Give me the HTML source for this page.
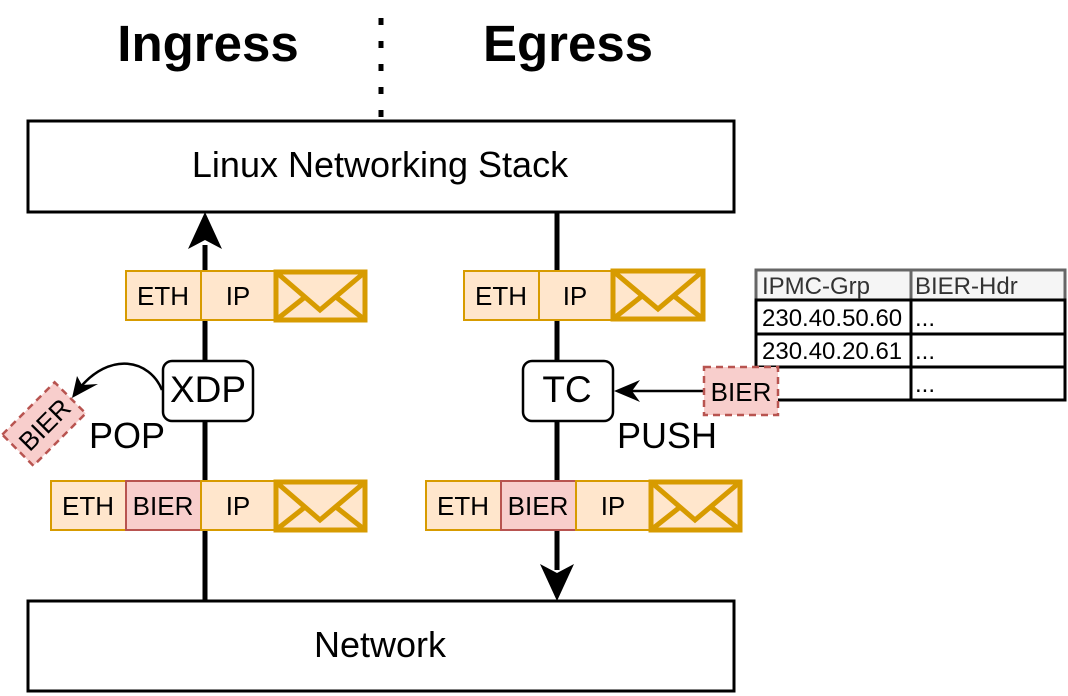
<!DOCTYPE html>
<html><head><style>body{margin:0;background:#fff}svg{display:block}text{font-family:"Liberation Sans",sans-serif}</style></head>
<body>
<svg width="1068" height="696" viewBox="0 0 1068 696" xmlns="http://www.w3.org/2000/svg">
<text x="208" y="61" font-size="51" font-weight="bold" text-anchor="middle">Ingress</text>
<text x="568" y="61" font-size="51" font-weight="bold" text-anchor="middle">Egress</text>
<line x1="381" y1="18" x2="381" y2="121" stroke="#000" stroke-width="5" stroke-dasharray="7 16"/>
<rect x="28" y="121" width="706" height="91" fill="#fff" stroke="#000" stroke-width="3"/>
<text x="380" y="177" font-size="36" text-anchor="middle">Linux Networking Stack</text>
<rect x="28" y="601" width="706" height="90" fill="#fff" stroke="#000" stroke-width="3"/>
<text x="380" y="657" font-size="36" text-anchor="middle">Network</text>
<line x1="205" y1="601" x2="205" y2="245" stroke="#000" stroke-width="5"/>
<path d="M205,212 L222,249 L205,240 L188,249 Z" fill="#000"/>
<line x1="557" y1="212" x2="557" y2="570" stroke="#000" stroke-width="5"/>
<path d="M557,601 L540,564 L557,573 L574,564 Z" fill="#000"/>
<g font-size="26" text-anchor="middle">
<rect x="126" y="271" width="75" height="49" fill="#ffe6cc" stroke="#d79b00" stroke-width="2"/><text x="163" y="305">ETH</text>
<rect x="201" y="271" width="74" height="49" fill="#ffe6cc" stroke="#d79b00" stroke-width="2"/><text x="238" y="305">IP</text>
<rect x="464" y="271" width="75" height="49" fill="#ffe6cc" stroke="#d79b00" stroke-width="2"/><text x="501" y="305">ETH</text>
<rect x="539" y="271" width="73" height="49" fill="#ffe6cc" stroke="#d79b00" stroke-width="2"/><text x="575" y="305">IP</text>
<rect x="51" y="481" width="75" height="49" fill="#ffe6cc" stroke="#d79b00" stroke-width="2"/><text x="88" y="515">ETH</text>
<rect x="126" y="481" width="75" height="49" fill="#f8cecc" stroke="#b85450" stroke-width="2"/><text x="163" y="515">BIER</text>
<rect x="201" y="481" width="74" height="49" fill="#ffe6cc" stroke="#d79b00" stroke-width="2"/><text x="238" y="515">IP</text>
<rect x="426" y="481" width="75" height="49" fill="#ffe6cc" stroke="#d79b00" stroke-width="2"/><text x="463" y="515">ETH</text>
<rect x="501" y="481" width="75" height="49" fill="#f8cecc" stroke="#b85450" stroke-width="2"/><text x="538" y="515">BIER</text>
<rect x="576" y="481" width="74" height="49" fill="#ffe6cc" stroke="#d79b00" stroke-width="2"/><text x="613" y="515">IP</text>
</g>
<g fill="#ffe6cc" stroke="#d79b00" stroke-width="5">
<rect x="276" y="272" width="89" height="48"/><path d="M276,272 L320,310 L365,272 M276,320 L305,297 M365,320 L336,297" fill="none"/>
<rect x="613" y="271" width="90" height="48"/><path d="M613,271 L658,309 L703,271 M613,319 L642,296 M703,319 L674,296" fill="none"/>
<rect x="276" y="482" width="89" height="48"/><path d="M276,482 L320,520 L365,482 M276,530 L305,507 M365,530 L336,507" fill="none"/>
<rect x="651" y="482" width="89" height="48"/><path d="M651,482 L695,520 L740,482 M651,530 L680,507 M740,530 L711,507" fill="none"/>
</g>
<rect x="163" y="361" width="90" height="60" rx="9" fill="#fff" stroke="#000" stroke-width="2.5"/>
<text x="208" y="402" font-size="37" text-anchor="middle">XDP</text>
<rect x="523" y="361" width="90" height="60" rx="9" fill="#fff" stroke="#000" stroke-width="2.5"/>
<text x="567" y="402" font-size="37" text-anchor="middle">TC</text>
<text x="127" y="448" font-size="36" text-anchor="middle">POP</text>
<text x="667" y="448" font-size="36" text-anchor="middle">PUSH</text>
<path d="M162,390 C150,360 110,350 78,390" fill="none" stroke="#000" stroke-width="2.5"/>
<path d="M72,398 L77,376 L82,385 L98,384 Z" fill="#000"/>
<g transform="translate(44,424) rotate(-45)">
<rect x="-37" y="-22" width="74" height="44" fill="#f8cecc" stroke="#b85450" stroke-width="2.5" stroke-dasharray="7 5"/>
<text x="0" y="10" font-size="26" text-anchor="middle">BIER</text>
</g>
<line x1="704" y1="391" x2="625" y2="391" stroke="#000" stroke-width="2.5"/>
<path d="M614,391 L640,380 L632,391 L640,402 Z" fill="#000"/>
<rect x="756" y="270" width="309" height="30" fill="#f5f5f5" stroke="#666" stroke-width="3"/>
<line x1="911" y1="270" x2="911" y2="300" stroke="#666" stroke-width="3"/>
<g fill="#fff" stroke="#000" stroke-width="3">
<rect x="756" y="300" width="155" height="34"/><rect x="911" y="300" width="154" height="34"/>
<rect x="756" y="334" width="155" height="33"/><rect x="911" y="334" width="154" height="33"/>
<rect x="756" y="367" width="155" height="33"/><rect x="911" y="367" width="154" height="33"/>
</g>
<g font-size="24">
<text x="762" y="294" fill="#333">IPMC-Grp</text><text x="915" y="294" fill="#333">BIER-Hdr</text>
<text x="762" y="326">230.40.50.60</text><text x="915" y="326">...</text>
<text x="762" y="359">230.40.20.61</text><text x="915" y="359">...</text>
<text x="915" y="392">...</text>
</g>
<rect x="704" y="367" width="74" height="48" fill="#f8cecc" stroke="#b85450" stroke-width="2.5" stroke-dasharray="7 5"/>
<text x="741" y="401" font-size="26" text-anchor="middle">BIER</text>
</svg>
</body></html>
